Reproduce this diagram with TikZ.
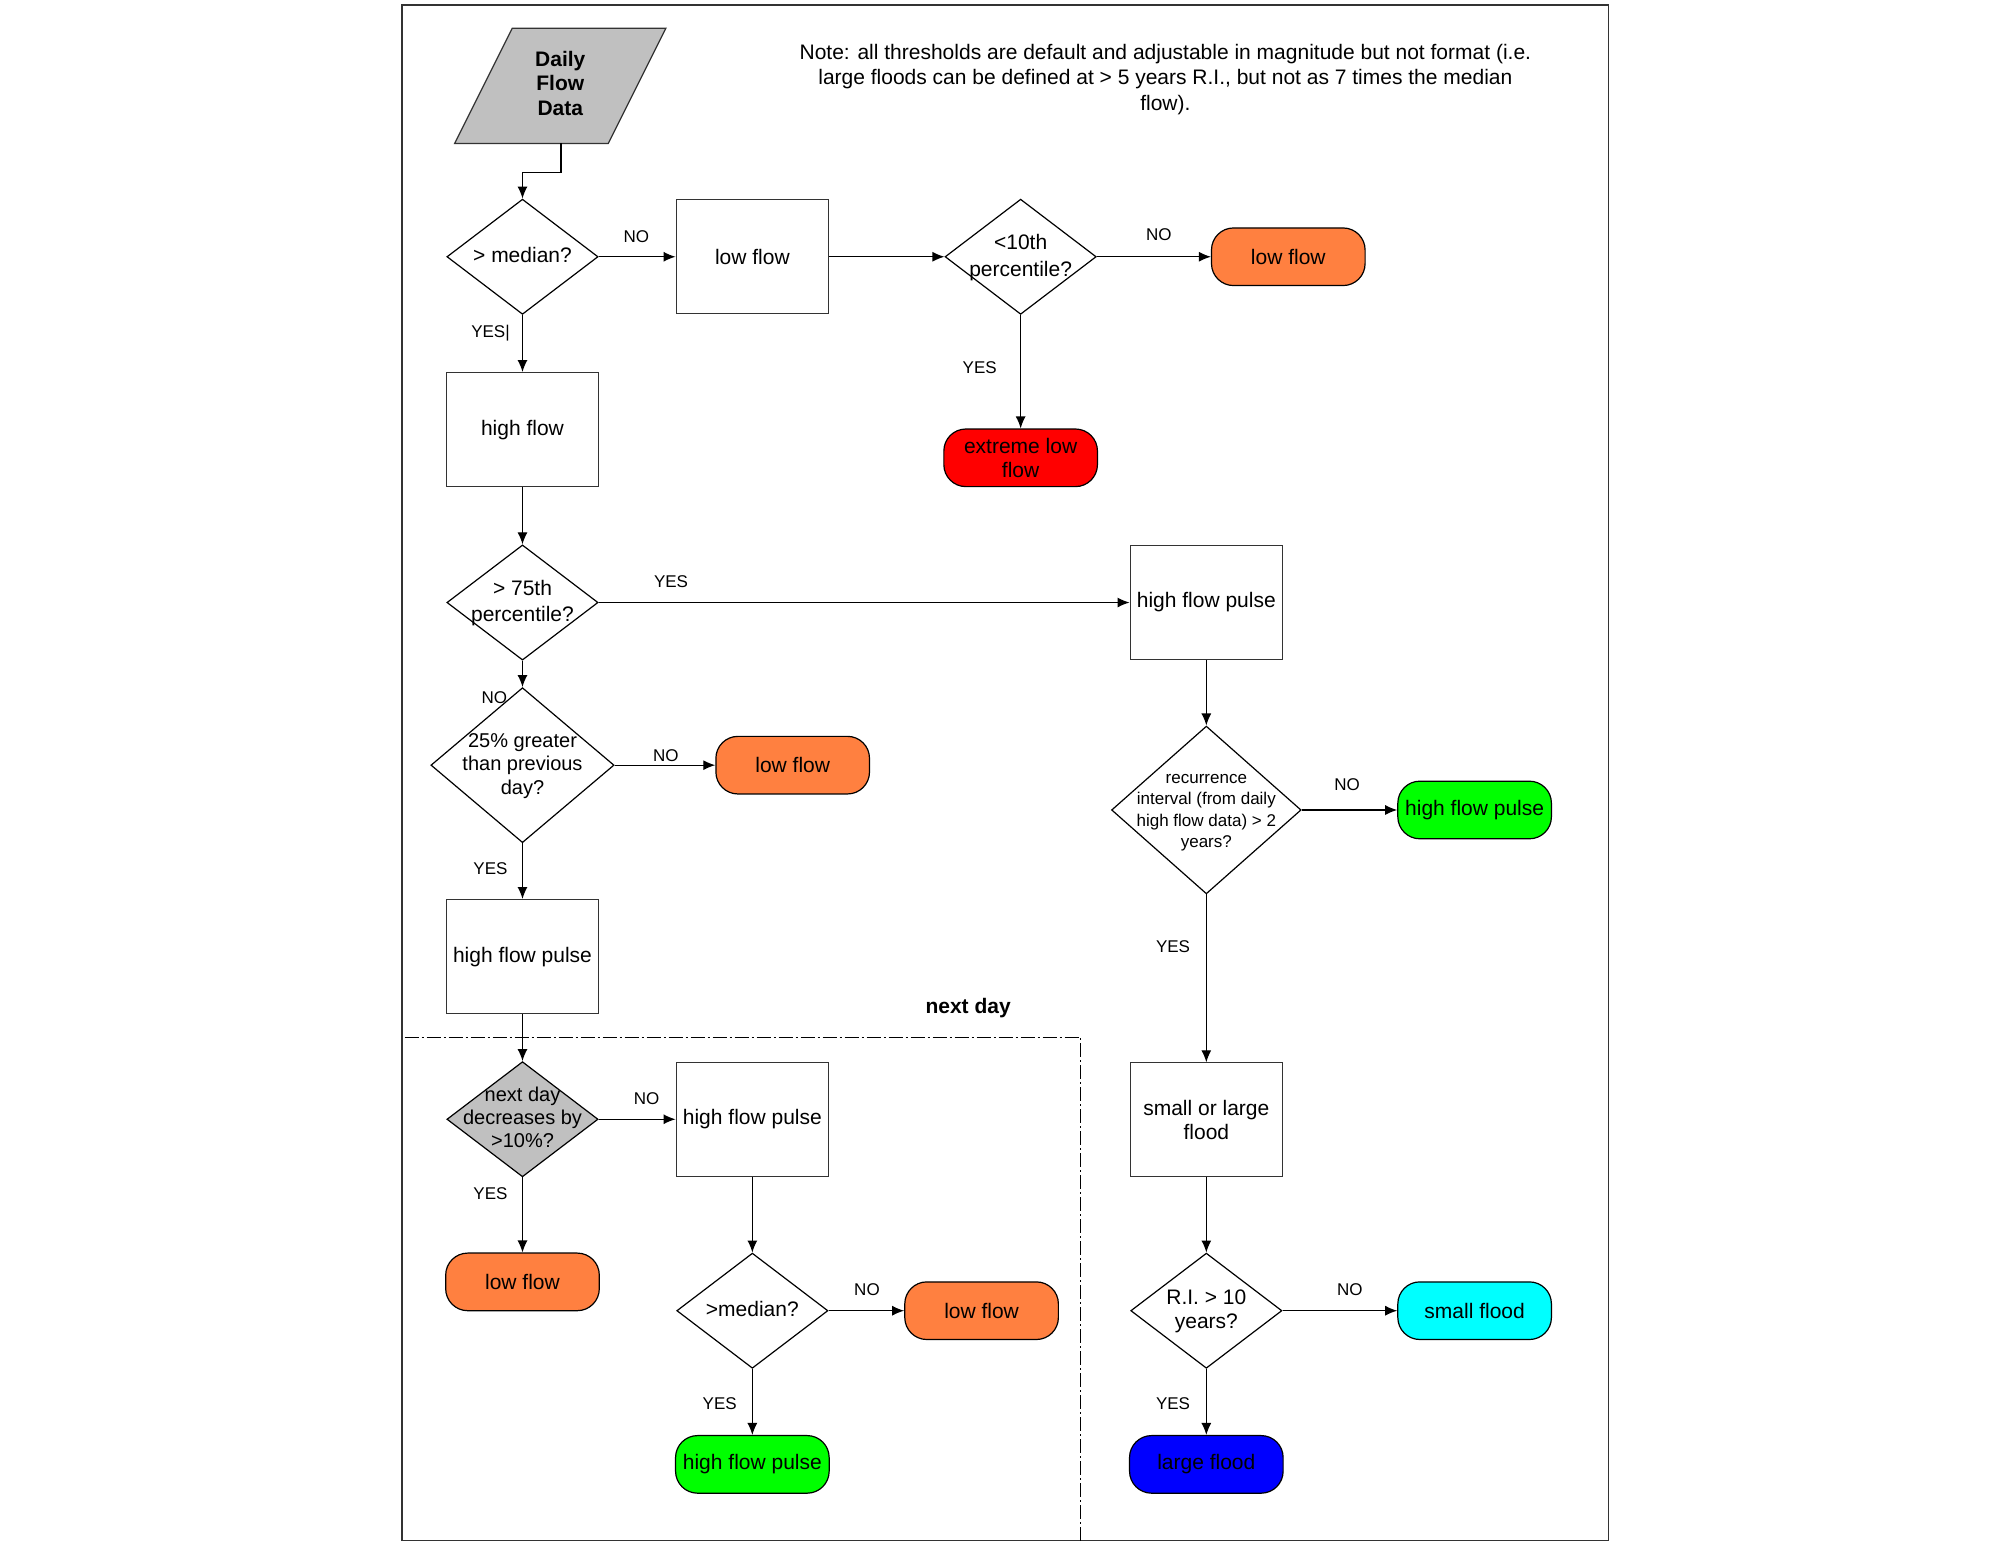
\documentclass[tikz,border=0pt]{standalone}
\usepackage{fontspec}
\setmainfont{Liberation Sans}
\usetikzlibrary{shapes.geometric,arrows.meta,calc}
\definecolor{orangeT}{RGB}{255,128,64}
\definecolor{greyD}{RGB}{192,192,192}
\definecolor{cyanT}{RGB}{0,255,255}
\definecolor{greenT}{RGB}{0,255,0}
\definecolor{blueT}{RGB}{0,0,255}
\definecolor{redT}{RGB}{255,0,0}
\newcommand{\dtxt}[1]{\makebox[0pt]{\smash{\raisebox{-0.3em}{\begin{tabular}{@{}c@{}}#1\end{tabular}}}}}
\tikzset{
  base/.style={line width=0.6pt, font=\fontsize{10.5}{12.2}\selectfont, inner sep=1pt},
  procbox/.style={base, draw=black!80, rectangle, minimum width=76.2pt, minimum height=57pt, align=center},
  decision/.style={base, draw=black, diamond, inner sep=0pt, minimum width=75.6pt, minimum height=57.6pt},
  term/.style={base, draw=black, rounded corners=11pt, minimum width=76.8pt, minimum height=28.8pt, align=center},
  lbl/.style={font=\fontsize{8.5}{10}\selectfont, inner sep=0pt},
  conn/.style={-{Latex[length=6pt,width=5pt]}, line width=0.6pt},
}
\begin{document}
\begin{tikzpicture}[x=0.6403pt, y=-0.6403pt]
\useasboundingbox[fill=white] (0,0) rectangle (1568,1210);
% frame
\draw[line width=0.9pt, draw=black!80] (314,4) rectangle (1256,1203);
% next day region
\draw[line width=0.6pt, dash pattern=on 7pt off 1.5pt on 1pt off 1.5pt] (316,810) -- (844,810) -- (844,1203);
\node[font=\bfseries\fontsize{10.5}{12}\selectfont] (nd) at (756,787) {next day};

% note
\node[font=\fontsize{10.5}{12.8}\selectfont, align=center] (note) at (910,62)
 {Note: all thresholds are default and adjustable in magnitude but not format (i.e.\\
  large floods can be defined at > 5 years R.I., but not as 7 times the median\\
  flow).};

% input (parallelogram)
\draw[line width=0.6pt, draw=black!80, fill=greyD] (355,112) -- (400,22) -- (520,22) -- (475,112) -- cycle;
\node[font=\bfseries\fontsize{10.5}{12.2}\selectfont, align=center, inner sep=0pt] (data) at (437.5,65) {Daily\\Flow\\Data};
\coordinate (dataout) at (438,112);

% left column
\node[decision] (d1) at (408,200.5) {\dtxt{> median?}};
\node[procbox] (b1) at (587.5,200.5) {low flow};
\node[decision, font=\fontsize{10.5}{13.5}\selectfont] (d2) at (797,200.5) {\dtxt{<10th\\percentile?}};
\node[term, fill=orangeT] (t1) at (1006,200.5) {low flow};
\node[term, fill=redT] (t2) at (797,357.5) {extreme low\\flow};
\node[procbox] (b2) at (408,335.5) {high flow};
\node[decision, font=\fontsize{10.5}{13}\selectfont] (d3) at (408,470.5) {\dtxt{> 75th\\percentile?}};
\node[procbox] (b3) at (942,470.5) {high flow pulse};
\node[decision, minimum width=91.6pt, minimum height=77.5pt, font=\fontsize{10}{11.8}\selectfont] (d4) at (408,597.5)
 {\dtxt{25\% greater\\than previous\\day?}};
\node[term, fill=orangeT] (t3) at (619,597.5) {low flow};
\node[procbox] (b4) at (408,747) {high flow pulse};
\node[decision, fill=greyD, font=\fontsize{10}{11.5}\selectfont] (d5) at (408,874)
 {\dtxt{next day\\decreases by\\>10\%?}};
\node[procbox] (b5) at (587.5,874) {high flow pulse};
\node[term, fill=orangeT] (t4) at (408,1001) {low flow};
\node[decision] (d6) at (587.5,1023.5) {\dtxt{>median?}};
\node[term, fill=orangeT] (t5) at (766.5,1023.5) {low flow};
\node[term, fill=greenT] (t6) at (587.5,1143.5) {high flow pulse};

% right column
\node[decision, minimum width=94.8pt, minimum height=83.9pt, font=\fontsize{8.5}{10.7}\selectfont] (d7) at (942,632.5)
 {\dtxt{recurrence\\interval (from daily\\high flow data) > 2\\years?}};
\node[term, fill=greenT] (t7) at (1151.5,632.5) {high flow pulse};
\node[procbox] (b6) at (942,874.5) {small or large\\flood};
\node[decision] (d8) at (942,1023.5) {\dtxt{R.I. > 10\\years?}};
\node[term, fill=cyanT] (t8) at (1151.5,1023.5) {small flood};
\node[term, fill=blueT] (t9) at (942,1143.5) {large flood};

% connectors
\draw[conn] (dataout) -- ++(0,23) -| (d1.north);
\draw[conn] (d1.east) -- (b1.west);
\draw[conn] (d1.south) -- (b2.north);
\draw[conn] (b1.east) -- (d2.west);
\draw[conn] (d2.east) -- (t1.west);
\draw[conn] (d2.south) -- (t2.north);
\draw[conn] (b2.south) -- (d3.north);
\draw[conn] (d3.east) -- (b3.west);
\draw[conn] (d3.south) -- (d4.north);
\draw[conn] (d4.east) -- (t3.west);
\draw[conn] (d4.south) -- (b4.north);
\draw[conn] (b4.south) -- (d5.north);
\draw[conn] (d5.east) -- (b5.west);
\draw[conn] (d5.south) -- (t4.north);
\draw[conn] (b5.south) -- (d6.north);
\draw[conn] (d6.east) -- (t5.west);
\draw[conn] (d6.south) -- (t6.north);
\draw[conn] (b3.south) -- (d7.north);
\draw[conn] (d7.east) -- (t7.west);
\draw[conn] (d7.south) -- (b6.north);
\draw[conn] (b6.south) -- (d8.north);
\draw[conn] (d8.east) -- (t8.west);
\draw[conn] (d8.south) -- (t9.north);

% labels
\node[lbl] (l1) at (497,185) {NO};
\node[lbl] (l2) at (383,260) {YES|};
\node[lbl] (l3) at (905,183) {NO};
\node[lbl] (l4) at (765,287) {YES};
\node[lbl] (l5) at (524,454) {YES};
\node[lbl] (l6) at (386,545) {NO};
\node[lbl] (l7) at (520,590) {NO};
\node[lbl] (l8) at (383,678) {YES};
\node[lbl] (l9) at (1052,613) {NO};
\node[lbl] (l10) at (916,739) {YES};
\node[lbl] (l11) at (505,858) {NO};
\node[lbl] (l12) at (383,932) {YES};
\node[lbl] (l13) at (677,1007) {NO};
\node[lbl] (l14) at (562,1096) {YES};
\node[lbl] (l15) at (1054,1007) {NO};
\node[lbl] (l16) at (916,1096) {YES};
\end{tikzpicture}
\end{document}
